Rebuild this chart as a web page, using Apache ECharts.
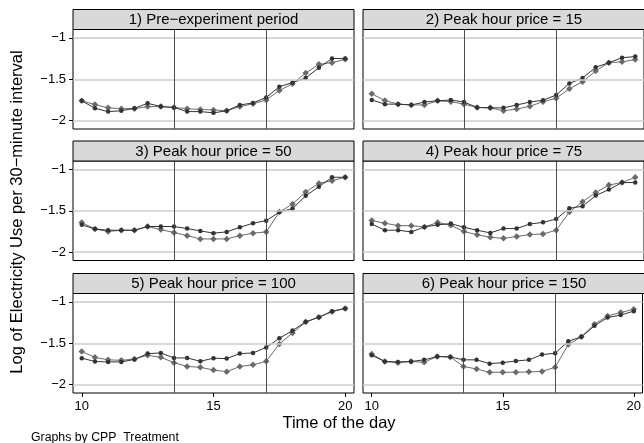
<!DOCTYPE html>
<html><head><meta charset="utf-8">
<script src="https://cdn.jsdelivr.net/npm/echarts@6/dist/echarts.min.js"></script>
<style>html,body{margin:0;padding:0;background:#fff}#c{width:644px;height:443px}</style>
</head><body><div id="c"></div>
<script>
var hours = [10,10.5,11,11.5,12,12.5,13,13.5,14,14.5,15,15.5,16,16.5,17,17.5,18,18.5,19,19.5,20];
var panelTitles = ["1) Pre\u2212experiment period","2) Peak hour price = 15","3) Peak hour price = 50","4) Peak hour price = 75","5) Peak hour price = 100","6) Peak hour price = 150"];
var xTicks = [10,15,20];
var yTicks = [-2,-1.5,-1];
var peakLines = [13.5,17];

var p1dark = [-1.76,-1.85,-1.89,-1.88,-1.85,-1.79,-1.83,-1.84,-1.89,-1.89,-1.905,-1.88,-1.81,-1.785,-1.72,-1.59,-1.54,-1.485,-1.36,-1.25,-1.25];
var p1gray = [-1.76,-1.805,-1.845,-1.855,-1.855,-1.83,-1.83,-1.84,-1.855,-1.865,-1.87,-1.88,-1.83,-1.795,-1.75,-1.635,-1.555,-1.425,-1.32,-1.30,-1.26];
var p2dark = [-1.75,-1.80,-1.80,-1.81,-1.775,-1.76,-1.75,-1.775,-1.84,-1.845,-1.845,-1.81,-1.775,-1.753,-1.69,-1.55,-1.486,-1.356,-1.30,-1.24,-1.227];
var p2gray = [-1.676,-1.757,-1.80,-1.81,-1.81,-1.76,-1.77,-1.80,-1.84,-1.845,-1.88,-1.86,-1.826,-1.77,-1.73,-1.615,-1.53,-1.40,-1.30,-1.29,-1.263];
var p3dark = [-1.67,-1.72,-1.735,-1.735,-1.735,-1.69,-1.69,-1.69,-1.715,-1.743,-1.77,-1.755,-1.70,-1.65,-1.62,-1.516,-1.474,-1.32,-1.21,-1.096,-1.096];
var p3gray = [-1.643,-1.72,-1.75,-1.735,-1.735,-1.69,-1.727,-1.763,-1.80,-1.84,-1.84,-1.84,-1.80,-1.77,-1.755,-1.516,-1.418,-1.273,-1.17,-1.137,-1.096];
var p4dark = [-1.66,-1.735,-1.735,-1.755,-1.695,-1.67,-1.655,-1.70,-1.735,-1.767,-1.715,-1.715,-1.66,-1.64,-1.60,-1.47,-1.446,-1.317,-1.245,-1.16,-1.16];
var p4gray = [-1.618,-1.65,-1.68,-1.68,-1.695,-1.643,-1.675,-1.75,-1.79,-1.82,-1.833,-1.81,-1.787,-1.78,-1.735,-1.516,-1.39,-1.28,-1.19,-1.16,-1.096];
var p5dark = [-1.68,-1.72,-1.725,-1.725,-1.695,-1.625,-1.617,-1.677,-1.677,-1.718,-1.68,-1.685,-1.625,-1.617,-1.55,-1.44,-1.347,-1.242,-1.185,-1.113,-1.08];
var p5gray = [-1.60,-1.67,-1.70,-1.706,-1.69,-1.645,-1.67,-1.734,-1.78,-1.79,-1.823,-1.843,-1.78,-1.76,-1.718,-1.508,-1.375,-1.245,-1.185,-1.12,-1.08];
var p6dark = [-1.645,-1.72,-1.725,-1.72,-1.70,-1.66,-1.665,-1.70,-1.70,-1.746,-1.734,-1.714,-1.70,-1.637,-1.62,-1.476,-1.423,-1.29,-1.19,-1.16,-1.113];
var p6gray = [-1.63,-1.72,-1.735,-1.72,-1.73,-1.66,-1.665,-1.78,-1.81,-1.85,-1.85,-1.85,-1.845,-1.84,-1.79,-1.516,-1.423,-1.27,-1.17,-1.13,-1.09];

var darkSets = [p1dark,p2dark,p3dark,p4dark,p5dark,p6dark];
var graySets = [p1gray,p2gray,p3gray,p4gray,p5gray,p6gray];

var FONT = '"Liberation Sans", Arial, Helvetica, sans-serif';
var colLeft = [73, 363];
var colWidth = [281, 282];
var rowTop = [29.5, 161, 293.5];
var plotH = 99.5;
var headH = 20;

function pairs(ys){ return hours.map(function(h,i){ return [h, ys[i]]; }); }
function fmt(v){ return String(v).replace('-', '\u2212'); }

var grids=[], xAxes=[], yAxes=[], series=[], graphics=[];
for (var p=0;p<6;p++){
  var r = Math.floor(p/2), c = p%2;
  var L = colLeft[c], T = rowTop[r], W = colWidth[c];
  grids.push({left:L, top:T, width:W, height:plotH, show:true, borderColor:'#000', borderWidth:1, backgroundColor:'#fff', containLabel:false});
  var bottomRow = (r===2), leftCol = (c===0);
  xAxes.push({type:'value', gridIndex:p, min:9.6667, max:20.3333,
    axisLine:{show:false}, splitLine:{show:false},
    axisTick:{show:bottomRow, customValues:xTicks, length:4, inside:false, lineStyle:{color:'#000',width:1}},
    axisLabel:{show:bottomRow, customValues:xTicks, color:'#000', fontFamily:FONT, fontSize:13, margin:7}});
  yAxes.push({type:'value', gridIndex:p, min:-2.1, max:-0.9,
    axisLine:{show:false}, splitLine:{show:false},
    axisTick:{show:leftCol, customValues:yTicks, length:4, lineStyle:{color:'#000',width:1}},
    axisLabel:{show:leftCol, customValues:yTicks, color:'#000', fontFamily:FONT, fontSize:13, margin:7, formatter:fmt}});
  series.push({type:'line', xAxisIndex:p, yAxisIndex:p, data:pairs(darkSets[p]), showSymbol:false, silent:true, z:1,
    lineStyle:{opacity:0, width:0}, itemStyle:{opacity:0},
    markLine:{silent:true, symbol:'none', label:{show:false}, animation:false,
      data: yTicks.map(function(v){return {yAxis:v, lineStyle:{color:'#cdcdcd', width:1.5, type:'solid'}};})
        .concat(peakLines.map(function(v){return {xAxis:v, lineStyle:{color:'#4d4d4d', width:1, type:'solid'}};}))}});
  series.push({type:'line', xAxisIndex:p, yAxisIndex:p, data:pairs(graySets[p]), z:3,
    symbol:'diamond', symbolSize:6.5, showSymbol:true,
    lineStyle:{color:'#6a6a6a', width:1}, itemStyle:{color:'#6a6a6a'}});
  series.push({type:'line', xAxisIndex:p, yAxisIndex:p, data:pairs(darkSets[p]), z:4,
    symbol:'circle', symbolSize:4.5, showSymbol:true,
    lineStyle:{color:'#333333', width:1}, itemStyle:{color:'#333333'}});
  graphics.push({type:'rect', shape:{x:L, y:T-headH, width:W, height:headH}, style:{fill:'#d9d9d9', stroke:'#000', lineWidth:1}, z:10});
  graphics.push({type:'text', x:L+W/2, y:T-headH/2+0.5, style:{text:panelTitles[p], fill:'#000', font:'15px '+FONT, textAlign:'center', textVerticalAlign:'middle'}, z:11});
}
graphics.push({type:'text', x:339, y:423, style:{text:'Time of the day', fill:'#000', font:'16.5px '+FONT, textAlign:'center', textVerticalAlign:'middle'}, z:11});
graphics.push({type:'text', x:17, y:212, rotation:Math.PI/2, style:{text:'Log of Electricity Use per 30\u2212minute interval', fill:'#000', font:'16.5px '+FONT, textAlign:'center', textVerticalAlign:'middle'}, z:11});
graphics.push({type:'text', x:31, y:438, style:{text:'Graphs by CPP_Treatment', fill:'#000', font:'12.3px '+FONT, textAlign:'left', textVerticalAlign:'middle'}, z:11});

var chart = echarts.init(document.getElementById('c'), null, {renderer:'canvas'});
chart.setOption({animation:false, backgroundColor:'#fff', grid:grids, xAxis:xAxes, yAxis:yAxes, series:series, graphic:graphics});
</script></body></html>
